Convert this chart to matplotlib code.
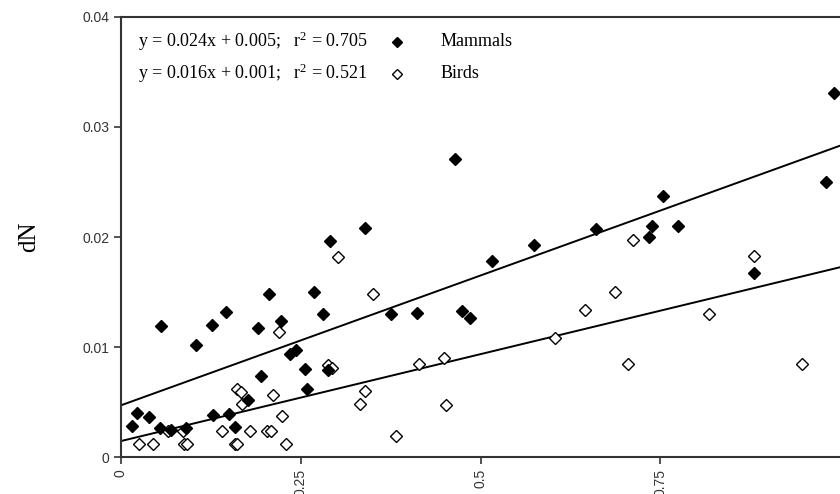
import matplotlib
matplotlib.use("Agg")
import matplotlib.pyplot as plt
import numpy as np

plt.rcParams["mathtext.fontset"] = "custom"
plt.rcParams["mathtext.rm"] = "Liberation Serif"
plt.rcParams["mathtext.it"] = "Liberation Serif:italic"

# Data
mammal_x = [0.015, 0.022, 0.039, 0.056, 0.054, 0.069, 0.090, 0.105, 0.126, 0.128,
            0.146, 0.150, 0.158, 0.176, 0.190, 0.195, 0.206, 0.223, 0.235, 0.243,
            0.256, 0.258, 0.268, 0.281, 0.288, 0.290, 0.339, 0.376, 0.412, 0.465,
            0.474, 0.485, 0.516, 0.575, 0.660, 0.735, 0.738, 0.754, 0.775, 0.881,
            0.981, 0.992]
mammal_y = [0.0028, 0.0040, 0.0036, 0.0119, 0.0026, 0.0025, 0.0026, 0.0102, 0.0120, 0.0038,
            0.0132, 0.0039, 0.0027, 0.0052, 0.0117, 0.0074, 0.0148, 0.0124, 0.0094, 0.0097,
            0.0080, 0.0062, 0.0150, 0.0130, 0.0079, 0.0196, 0.0208, 0.0130, 0.0131, 0.0271,
            0.0133, 0.0126, 0.0178, 0.0193, 0.0207, 0.0200, 0.0210, 0.0237, 0.0210, 0.0167,
            0.0250, 0.0331]

bird_x = [0.025, 0.044, 0.066, 0.086, 0.087, 0.092, 0.140, 0.158, 0.162, 0.162,
          0.167, 0.168, 0.180, 0.203, 0.208, 0.211, 0.220, 0.224, 0.230, 0.288,
          0.293, 0.302, 0.332, 0.340, 0.351, 0.383, 0.414, 0.449, 0.452, 0.604,
          0.646, 0.687, 0.705, 0.712, 0.818, 0.881, 0.947]
bird_y = [0.0012, 0.0012, 0.0024, 0.0024, 0.0012, 0.0012, 0.0024, 0.0012, 0.0012, 0.0062,
          0.0059, 0.0048, 0.0024, 0.0024, 0.0024, 0.0056, 0.0114, 0.0037, 0.0012, 0.0084,
          0.0081, 0.0182, 0.0048, 0.0060, 0.0148, 0.0019, 0.0085, 0.0090, 0.0047, 0.0108,
          0.0134, 0.0150, 0.0085, 0.0197, 0.0130, 0.0183, 0.0085]

# Fitted lines as drawn (intercept, slope)
mammal_fit = [0.0047, 0.0236]
bird_fit = [0.00145, 0.0158]

x_ticks = [0, 0.25, 0.5, 0.75]
x_tick_labels = ["0", "0.25", "0.5", "0.75"]
y_ticks = [0, 0.01, 0.02, 0.03, 0.04]
y_tick_labels = ["0", "0.01", "0.02", "0.03", "0.04"]

serif = ["Liberation Serif", "DejaVu Serif"]
sans = ["Liberation Sans", "DejaVu Sans"]

fig = plt.figure(figsize=(8.4, 4.94), dpi=100)
ax = fig.add_axes([121 / 840, 1 - 457 / 494, 1 - 121 / 840, (457 - 17) / 494])

xx = np.array([0.0, 1.0])
ax.plot(xx, mammal_fit[0] + mammal_fit[1] * xx, color="black", lw=1.4, zorder=2)
ax.plot(xx, bird_fit[0] + bird_fit[1] * xx, color="black", lw=1.4, zorder=2)

ax.plot(bird_x, bird_y, linestyle="none", marker="D", ms=5.8, mfc="white",
        mec="black", mew=1.0, zorder=3, clip_on=False)
ax.plot(mammal_x, mammal_y, linestyle="none", marker="D", ms=5.8, mfc="black",
        mec="black", mew=1.0, zorder=4, clip_on=False)

ax.set_xlim(0, 1)
ax.set_ylim(0, 0.04)
ax.set_xticks(x_ticks)
ax.set_xticklabels(x_tick_labels, rotation=90, family=sans, fontsize=10, color="#333333")
ax.set_yticks(y_ticks)
ax.set_yticklabels(y_tick_labels, family=sans, fontsize=10, color="#333333")
ax.tick_params(direction="out", length=5, width=1.2, colors="#333333", labelcolor="#333333")
ax.spines["right"].set_visible(False)
for s in ["left", "bottom", "top"]:
    ax.spines[s].set_linewidth(1.5)
    ax.spines[s].set_color("#333333")

ax.set_ylabel("dN", family=serif, fontsize=18, labelpad=30)

# Equation / legend block
tkw = dict(transform=ax.transAxes, family=serif, fontsize=13, va="center", ha="left")
ax.text(0.024, 0.944, r"y = 0.024x + 0.005;   r$^{\mathrm{2}}$ = 0.705", **tkw)
ax.text(0.024, 0.871, r"y = 0.016x + 0.001;   r$^{\mathrm{2}}$ = 0.521", **tkw)
ax.plot([0.384], [0.944], transform=ax.transAxes, marker="D", ms=5, mfc="black",
        mec="black", linestyle="none")
ax.plot([0.384], [0.871], transform=ax.transAxes, marker="D", ms=5, mfc="white",
        mec="black", mew=1.0, linestyle="none")
ax.text(0.444, 0.944, "Mammals", **tkw)
ax.text(0.444, 0.871, "Birds", **tkw)

fig.savefig("out.png", dpi=100)
